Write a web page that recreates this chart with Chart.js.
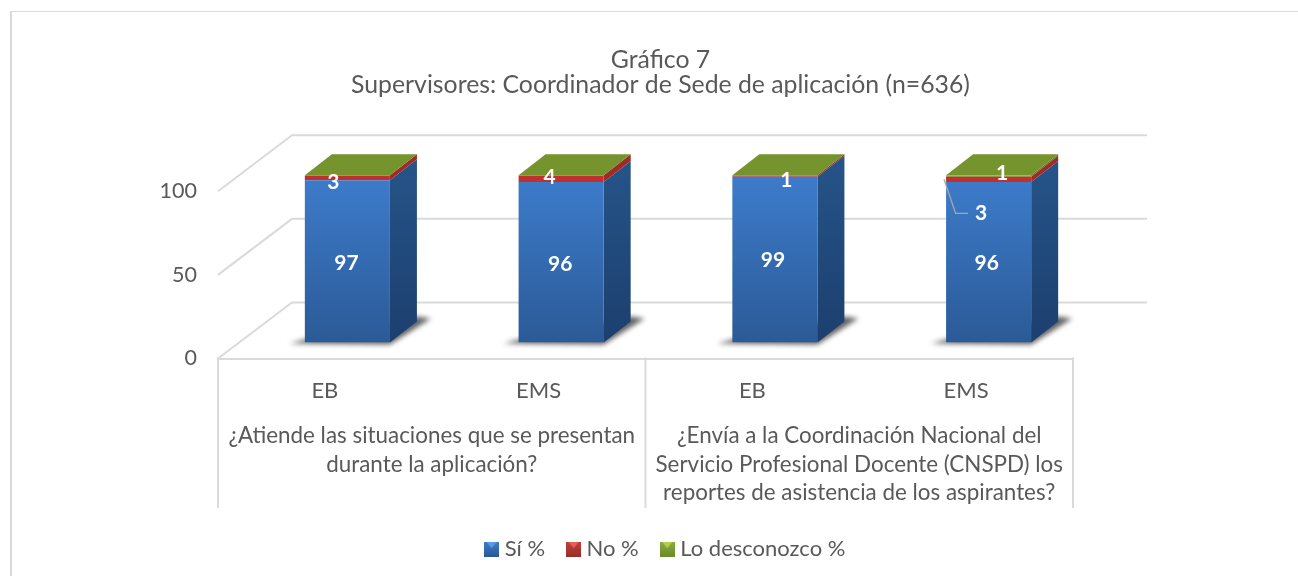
<!DOCTYPE html>
<html><head><meta charset="utf-8">
<style>
html,body{margin:0;padding:0;background:#fff;overflow:hidden;width:1298px;height:578px}
#frame{position:absolute;left:10px;top:11px;width:1288px;height:565px;border-left:2px solid #d9d9d9;border-top:1.5px solid #d9d9d9;box-sizing:border-box}
#wrap{position:absolute;left:0;top:0;width:1298px;height:578px}
</style>
<script src="https://cdn.jsdelivr.net/npm/chart.js@4"></script>
</head><body>
<div id="frame"></div>
<div id="wrap"><canvas id="c" width="1298" height="578"></canvas></div>
<script>
const categories = ["EB","EMS","EB","EMS"];
const questions = [
  ["¿Atiende las situaciones que se presentan","durante la aplicación?"],
  ["¿Envía a la Coordinación Nacional del","Servicio Profesional Docente (CNSPD) los","reportes de asistencia de los aspirantes?"]
];
const si = [97,96,99,96];
const no = [3,4,1,3];
const desconozco = [0,0,0,1];
const titleLines = ["Gráfico 7","Supervisores: Coordinador de Sede de aplicación (n=636)"];
const seriesNames = ["Sí %","No %","Lo desconozco %"];
const yTicks = [0,50,100];

const FONT = "Lato";
const TXT = "#595959";
const LINE = "#dadada";
// 3D look of the box
const WALL = {dx:74, dy:-56};
const BAR = {shiftX:22.5, shiftY:-16, dx:27, dy:-21};
// offset of each value label from the middle of its segment
const labelNudge = [
  [[-1,1.5],[-1,2],[-2,1],[-2,1]],
  [[-14,4.5],[-11.5,-1],[11.5,4],[-7.5,34]],
  [null,null,null,[13.5,-3]]
];

function vgrad(ctx, y0, y1, c0, c1){const g=ctx.createLinearGradient(0,y0,0,y1);g.addColorStop(0,c0);g.addColorStop(1,c1);return g;}
function marker(c1,c2,c3){
  const s=15,m=document.createElement('canvas');m.width=s;m.height=s;const x=m.getContext('2d');
  const g=x.createLinearGradient(0,0,0,s);g.addColorStop(0,c1);g.addColorStop(1,c2);
  x.fillStyle=g;x.fillRect(0,0,s,s);
  x.fillStyle=c3;x.beginPath();x.moveTo(2,0);x.lineTo(s-2,0);x.lineTo(s/2,s*0.45);x.closePath();x.fill();
  return m;
}
const markers=[marker('#3d7dcc','#2a5a96','#5a9be0'),marker('#c83c38','#963029','#e0605a'),marker('#8aae3a','#6d8a2e','#b0d04e')];

const faces = [
  {front:['#3d7ccb','#2b5a97'], side:['#265489','#1c3f6e']},
  {front:['#c0302c','#c0302c'], side:['#a02a26','#a02a26']},
  {front:['#76942e','#76942e'], side:['#5d7625','#5d7625']}
];
const frameBottom = 508;

const box3d = {
  id:'box3d',
  afterLayout(chart){
    const l=chart.legend, t=chart.titleBlock;
    l.left=0; l.right=1335; l.top-=8; l.bottom-=8;
    t.left=0; t.right=1321;
  },
  beforeDatasetsDraw(chart){
    const {ctx,scales:{x,y}}=chart;
    const x0=x.left,x1=x.right;
    ctx.save();
    ctx.strokeStyle=LINE;ctx.lineWidth=2;ctx.lineCap='butt';
    yTicks.forEach(v=>{
      const py=y.getPixelForValue(v);
      ctx.beginPath();ctx.moveTo(x0,py);ctx.lineTo(x0+WALL.dx,py+WALL.dy);ctx.lineTo(x1+WALL.dx,py+WALL.dy);ctx.stroke();
    });
    [x0,(x0+x1)/2,x1].forEach(px=>{ctx.beginPath();ctx.moveTo(px,y.getPixelForValue(0)-1);ctx.lineTo(px,frameBottom);ctx.stroke();});
    ctx.restore();
    ctx.save();
    ctx.translate(BAR.shiftX,BAR.shiftY);
    const m0=chart.getDatasetMeta(0);
    m0.data.forEach(b=>{
      const l=b.x-b.width/2,r=b.x+b.width/2,py=y.getPixelForValue(0);
      ctx.save();
      ctx.filter='blur(2.5px)';
      ctx.fillStyle='rgba(60,60,60,.8)';
      ctx.beginPath();ctx.moveTo(l-15,py+1);ctx.lineTo(r,py+2);ctx.lineTo(r+BAR.dx+14,py+BAR.dy-3);ctx.lineTo(r+BAR.dx,py+BAR.dy-5);ctx.lineTo(l,py-3);ctx.closePath();ctx.fill();
      ctx.restore();
    });
    chart.data.datasets.forEach((d,i)=>{
      chart.getDatasetMeta(i).data.forEach(b=>{
        const r=b.x+b.width/2,t=b.y,bs=b.base;
        if(bs-t<=0)return;
        ctx.fillStyle=vgrad(ctx,t+BAR.dy,bs,faces[i].side[0],faces[i].side[1]);
        ctx.beginPath();ctx.moveTo(r,bs);ctx.lineTo(r,t);ctx.lineTo(r+BAR.dx,t+BAR.dy);ctx.lineTo(r+BAR.dx,bs+BAR.dy);ctx.closePath();ctx.fill();
      });
    });
    m0.data.forEach(b=>{
      const l=b.x-b.width/2,r=b.x+b.width/2,t=y.getPixelForValue(100);
      ctx.fillStyle=faces[2].front[0];
      ctx.beginPath();ctx.moveTo(l,t);ctx.lineTo(r,t);ctx.lineTo(r+BAR.dx,t+BAR.dy);ctx.lineTo(l+BAR.dx,t+BAR.dy);ctx.closePath();ctx.fill();
    });
  },
  afterDatasetsDraw(chart){
    const {ctx}=chart;
    ctx.font="bold 21px "+FONT;ctx.fillStyle='#fff';ctx.textAlign='center';ctx.textBaseline='middle';
    const b=chart.getDatasetMeta(1).data[3];
    const lx=b.x-b.width/2, ly=b.y+2.5;
    const my=(b.y+b.base)/2+labelNudge[1][3][1];
    ctx.strokeStyle='#a6a6a6';ctx.lineWidth=1.4;
    ctx.beginPath();ctx.moveTo(lx-2,ly);ctx.lineTo(lx+9.5,my);ctx.lineTo(lx+22,my);ctx.stroke();
    chart.data.datasets.forEach((d,i)=>{
      chart.getDatasetMeta(i).data.forEach((el,j)=>{
        const nud=labelNudge[i][j];
        if(!nud)return;
        ctx.fillText(String(d.data[j]),el.x+nud[0],(el.y+el.base)/2+nud[1]);
      });
    });
    ctx.restore();
  }
};

Chart.defaults.font.family=FONT;
new Chart(document.getElementById('c'),{
  type:'bar',
  data:{labels:categories,datasets:[
    {label:seriesNames[0],data:si,backgroundColor:c=>{const a=c.chart.chartArea;return a?vgrad(c.chart.ctx,a.top,a.bottom,faces[0].front[0],faces[0].front[1]):faces[0].front[0];}},
    {label:seriesNames[1],data:no,backgroundColor:faces[1].front[0]},
    {label:seriesNames[2],data:desconozco,backgroundColor:faces[2].front[0]}
  ]},
  options:{
    responsive:false,animation:false,
    layout:{padding:{left:0,right:225,top:48,bottom:0}},
    datasets:{bar:{categoryPercentage:1,barPercentage:0.398}},
    scales:{
      x:{stacked:true,position:'bottom',offset:true,grid:{display:false},
         border:{display:true,color:LINE,width:2},
         ticks:{color:TXT,font:{size:22,family:FONT},padding:11,maxRotation:0,autoSkip:false},
         afterFit(s){s.height=56;}},
      x2:{type:'category',labels:questions,position:'bottom',offset:true,grid:{display:false},border:{display:false},
         ticks:{color:TXT,font:{size:22.4,family:FONT,lineHeight:1.28},padding:-1,maxRotation:0,autoSkip:false},
         afterFit(s){s.height=105;}},
      y:{stacked:true,min:0,max:100,grid:{display:false},border:{display:false},
         ticks:{stepSize:50,color:TXT,font:{size:21.5,family:FONT},padding:13},
         afterFit(s){s.width=218;}}
    },
    plugins:{
      title:{display:true,text:titleLines,color:TXT,font:{size:24.8,weight:'normal',family:FONT,lineHeight:1.0},padding:{top:0,bottom:93.6}},
      legend:{position:'bottom',labels:{usePointStyle:true,boxWidth:4,color:TXT,font:{size:22,family:FONT},padding:26.5,
        generateLabels(ch){const it=Chart.defaults.plugins.legend.labels.generateLabels(ch);it.forEach((o,i)=>{o.pointStyle=markers[i];});return it;}}},
      tooltip:{enabled:false}
    }
  },
  plugins:[box3d]
});
</script>
</body></html>
